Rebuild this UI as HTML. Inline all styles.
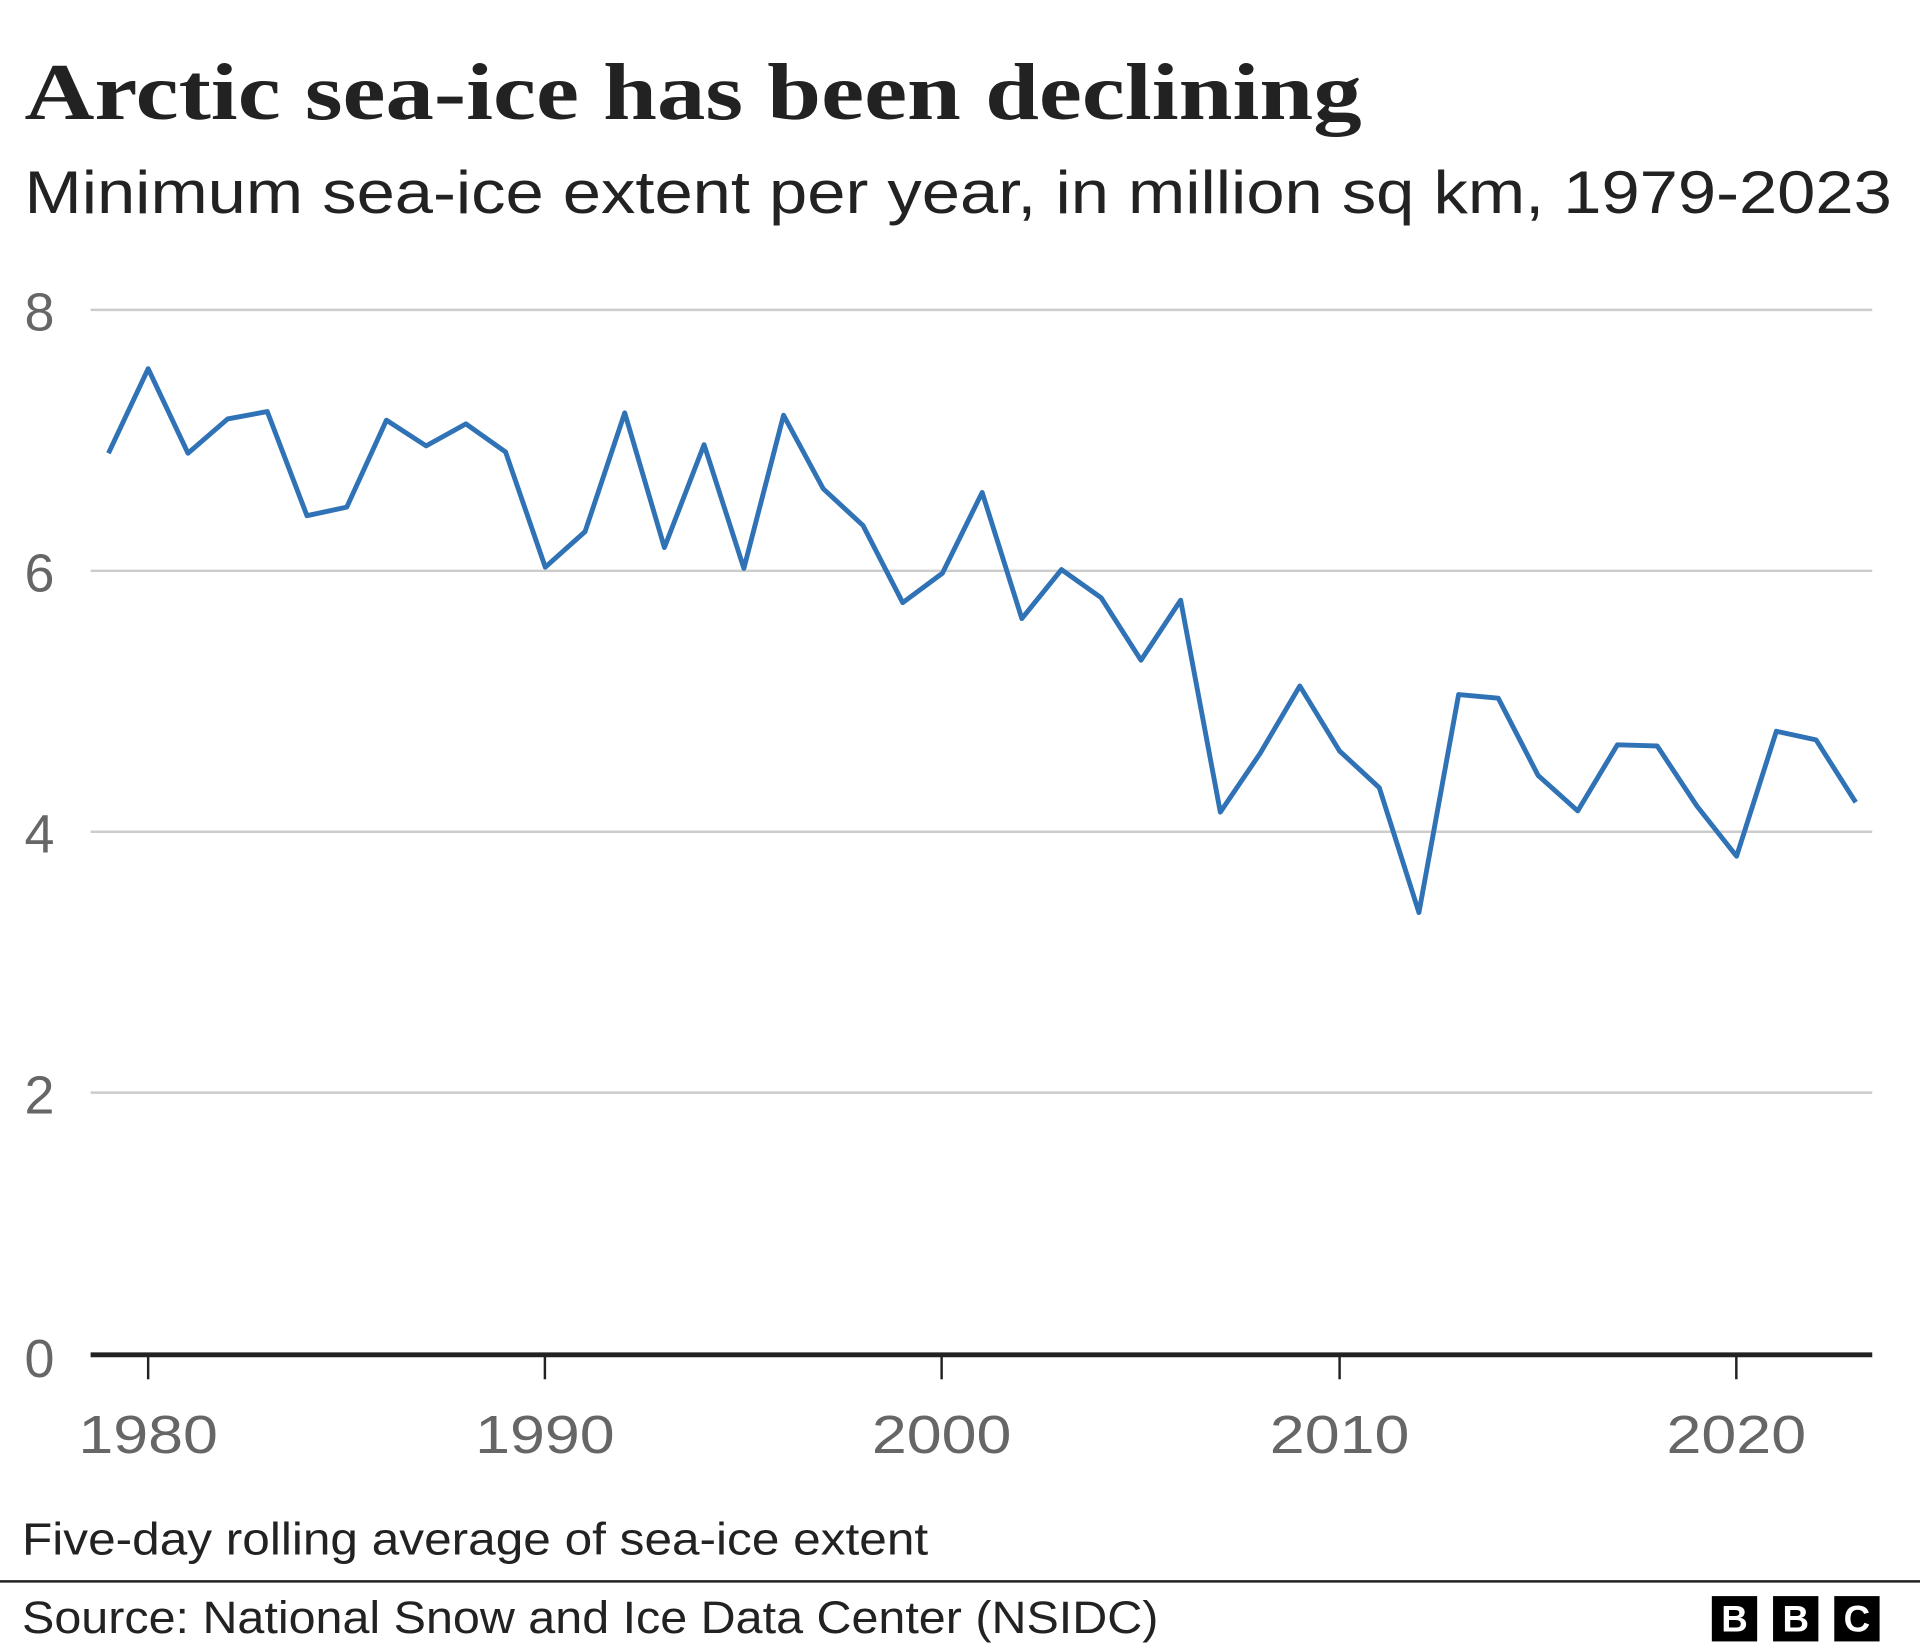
<!DOCTYPE html>
<html><head><meta charset="utf-8"><style>
html,body{margin:0;padding:0;background:#fff;width:1920px;height:1650px;overflow:hidden}
svg{display:block}
</style></head><body>
<svg width="1920" height="1650" viewBox="0 0 1568 1347" preserveAspectRatio="none" xmlns="http://www.w3.org/2000/svg">
<rect width="1568" height="1347" fill="#fff"/>
<text x="20" y="97" font-family="Liberation Serif, serif" font-weight="bold" font-size="66" fill="#222" textLength="1092" lengthAdjust="spacingAndGlyphs">Arctic sea-ice has been declining</text>
<text x="20" y="174" font-family="Liberation Sans, sans-serif" font-size="49" fill="#222" textLength="1525" lengthAdjust="spacingAndGlyphs">Minimum sea-ice extent per year, in million sq km, 1979-2023</text>
<g stroke="#ccc" stroke-width="2">
<line x1="74" x2="1529" y1="253" y2="253"/>
<line x1="74" x2="1529" y1="466" y2="466"/>
<line x1="74" x2="1529" y1="679" y2="679"/>
<line x1="74" x2="1529" y1="892" y2="892"/>
</g>
<g font-family="Liberation Sans, sans-serif" font-size="44" fill="#666">
<text x="20" y="270">8</text><text x="20" y="483">6</text><text x="20" y="696">4</text><text x="20" y="909">2</text><text x="20" y="1124">0</text>
<text x="121" y="1186" text-anchor="middle" textLength="114" lengthAdjust="spacingAndGlyphs">1980</text>
<text x="445" y="1186" text-anchor="middle" textLength="114" lengthAdjust="spacingAndGlyphs">1990</text>
<text x="769" y="1186" text-anchor="middle" textLength="114" lengthAdjust="spacingAndGlyphs">2000</text>
<text x="1094" y="1186" text-anchor="middle" textLength="114" lengthAdjust="spacingAndGlyphs">2010</text>
<text x="1418" y="1186" text-anchor="middle" textLength="114" lengthAdjust="spacingAndGlyphs">2020</text>
</g>
<g stroke="#222" stroke-width="2">
<line x1="121" x2="121" y1="1106" y2="1126"/><line x1="445" x2="445" y1="1106" y2="1126"/><line x1="769" x2="769" y1="1106" y2="1126"/><line x1="1094" x2="1094" y1="1106" y2="1126"/><line x1="1418" x2="1418" y1="1106" y2="1126"/>
</g>
<line x1="74" x2="1529" y1="1106" y2="1106" stroke="#222" stroke-width="4"/>
<polyline fill="none" stroke="#2f72b5" stroke-width="4" stroke-linejoin="round" points="88.6,370 121,301 153.5,370 185.9,342 218.3,336 250.7,421 283.2,414 315.6,343 348,364 380.5,346 412.9,369 445.3,463 477.8,434 510.2,337 542.6,447 575,363 607.5,464 639.9,339 672.3,399 704.8,429 737.2,492 769.6,468 802.1,402 834.5,505 866.9,465 899.3,488 931.8,539 964.2,490 996.6,663 1029.1,615 1061.5,560 1093.9,613 1126.4,643 1158.8,745 1191.2,567 1223.6,570 1256.1,633 1288.5,662 1320.9,608 1353.4,609 1385.8,658 1418.2,699 1450.7,597 1483.1,604 1515.5,655"/>
<text x="18" y="1269" font-family="Liberation Sans, sans-serif" font-size="37" fill="#222" textLength="740" lengthAdjust="spacingAndGlyphs">Five-day rolling average of sea-ice extent</text>
<line x1="0" x2="1568" y1="1291" y2="1291" stroke="#222" stroke-width="2"/>
<text x="18" y="1333" font-family="Liberation Sans, sans-serif" font-size="37" fill="#222" textLength="928" lengthAdjust="spacingAndGlyphs">Source: National Snow and Ice Data Center (NSIDC)</text>
<g font-family="Liberation Sans, sans-serif" font-weight="bold" font-size="30" fill="#fff" text-anchor="middle">
<rect x="1398" y="1303" width="37" height="37" fill="#000"/><text x="1416.5" y="1332">B</text>
<rect x="1448" y="1303" width="37" height="37" fill="#000"/><text x="1466.5" y="1332">B</text>
<rect x="1498" y="1303" width="37" height="37" fill="#000"/><text x="1516.5" y="1332">C</text>
</g>
</svg>
</body></html>
